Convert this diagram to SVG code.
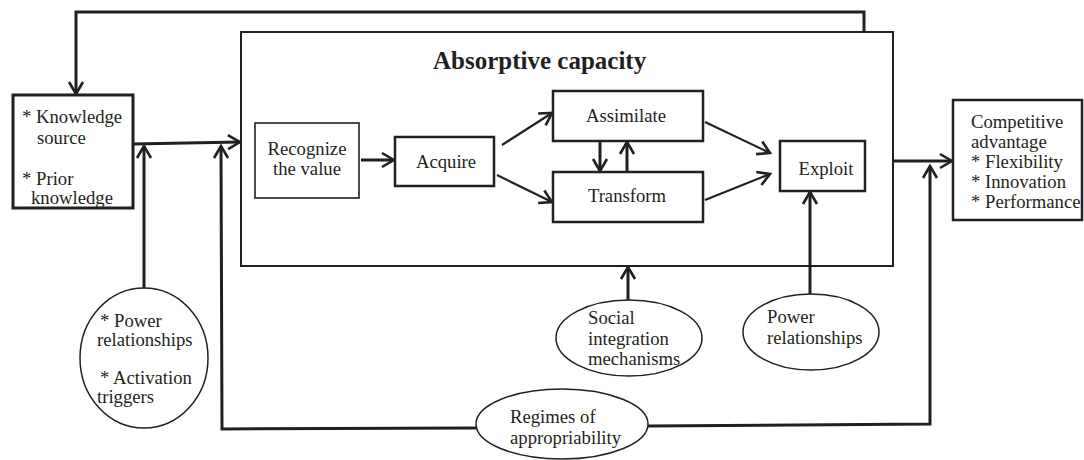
<svg xmlns="http://www.w3.org/2000/svg" width="1084" height="460" viewBox="0 0 1084 460">
<style>
text{font-family:'Liberation Serif','Times New Roman',serif;font-size:18.7px;fill:#231f20}
.title{font-weight:bold;font-size:25px}
.mid{text-anchor:middle}
.box{fill:#fff;stroke:#231f20;stroke-width:2.5}
.thin{fill:#fff;stroke:#231f20;stroke-width:1.6}
.ell{fill:#fff;stroke:#231f20;stroke-width:1.5}
.con{fill:none;stroke:#231f20;stroke-width:3}
.con2{fill:none;stroke:#231f20;stroke-width:2.2}
</style>
<defs>
<marker id="ah" markerUnits="userSpaceOnUse" markerWidth="16" markerHeight="18" viewBox="0 0 16 18" refX="14" refY="9" orient="auto">
<path d="M2,2 L14,9 L2,16" fill="none" stroke="#231f20" stroke-width="2.6"/>
</marker>
</defs>
<rect width="1084" height="460" fill="#fff"/>
<g id="absorptive-capacity">
<rect class="box" x="241" y="32" width="652" height="234" style="stroke-width:2"/>
<text class="title" x="433" y="69">Absorptive capacity</text>
</g>
<g id="knowledge-source">
<rect class="box" x="13" y="95" width="120" height="113" style="stroke-width:3"/>
<text x="22" y="123">* Knowledge</text>
<text x="37" y="144">source</text>
<text x="22" y="185">* Prior</text>
<text x="31" y="204">knowledge</text>
</g>
<g id="recognize">
<rect class="thin" x="255" y="123" width="104" height="75"/>
<text class="mid" x="307" y="155">Recognize</text>
<text class="mid" x="307" y="175">the value</text>
</g>
<g id="acquire">
<rect class="box" x="395" y="137" width="99" height="49"/>
<text class="mid" x="446" y="168">Acquire</text>
</g>
<g id="assimilate">
<rect class="box" x="553" y="91" width="150" height="50"/>
<text class="mid" x="626" y="122">Assimilate</text>
</g>
<g id="transform">
<rect class="box" x="553" y="172" width="150" height="50"/>
<text class="mid" x="627" y="202">Transform</text>
</g>
<g id="exploit">
<rect class="box" x="780" y="141" width="85" height="50"/>
<text class="mid" x="826" y="175">Exploit</text>
</g>
<g id="competitive-advantage">
<rect class="box" x="953" y="100" width="129" height="120"/>
<text x="971" y="128">Competitive</text>
<text x="971" y="148">advantage</text>
<text x="971" y="168">* Flexibility</text>
<text x="971" y="188">* Innovation</text>
<text x="971" y="208">* Performance</text>
</g>
<g id="power-activation">
<ellipse class="ell" cx="144" cy="358" rx="64" ry="70"/>
<text x="100" y="327">* Power</text>
<text x="97" y="346">relationships</text>
<text x="100" y="384">* Activation</text>
<text x="97" y="403">triggers</text>
</g>
<g id="social-integration">
<ellipse class="ell" cx="629" cy="338" rx="73" ry="38"/>
<text x="588" y="324">Social</text>
<text x="588" y="345">integration</text>
<text x="588" y="365">mechanisms</text>
</g>
<g id="power-relationships">
<ellipse class="ell" cx="811" cy="332" rx="68" ry="38"/>
<text x="767" y="323">Power</text>
<text x="767" y="344">relationships</text>
</g>
<g id="regimes">
<ellipse class="ell" cx="562" cy="424" rx="86" ry="35"/>
<text x="510" y="423">Regimes of</text>
<text x="510" y="444">appropriability</text>
</g>
<g id="connectors">
<polyline class="con" points="864,32 864,12 76,12 76,94" marker-end="url(#ah)"/>
<line class="con" x1="133" y1="144" x2="240" y2="142" marker-end="url(#ah)"/>
<line class="con" x1="144" y1="288" x2="144" y2="146" marker-end="url(#ah)"/>
<polyline class="con" points="476,428 222,429 221,146" marker-end="url(#ah)"/>
<polyline class="con" points="648,426 930,424 930,166" marker-end="url(#ah)"/>
<line class="con" x1="893" y1="161" x2="952" y2="161" marker-end="url(#ah)"/>
<line class="con" x1="361" y1="160" x2="394" y2="160" marker-end="url(#ah)"/>
<line class="con2" x1="502" y1="145" x2="552" y2="113" marker-end="url(#ah)"/>
<line class="con2" x1="497" y1="175" x2="552" y2="202" marker-end="url(#ah)"/>
<line class="con" x1="600" y1="141" x2="600" y2="171" marker-end="url(#ah)"/>
<line class="con" x1="627" y1="172" x2="627" y2="142" marker-end="url(#ah)"/>
<line class="con2" x1="705" y1="122" x2="770" y2="153" marker-end="url(#ah)"/>
<line class="con2" x1="705" y1="200" x2="770" y2="174" marker-end="url(#ah)"/>
<line class="con" x1="810" y1="294" x2="810" y2="192" marker-end="url(#ah)"/>
<line class="con" x1="628" y1="300" x2="628" y2="267" marker-end="url(#ah)"/>
</g>
</svg>
